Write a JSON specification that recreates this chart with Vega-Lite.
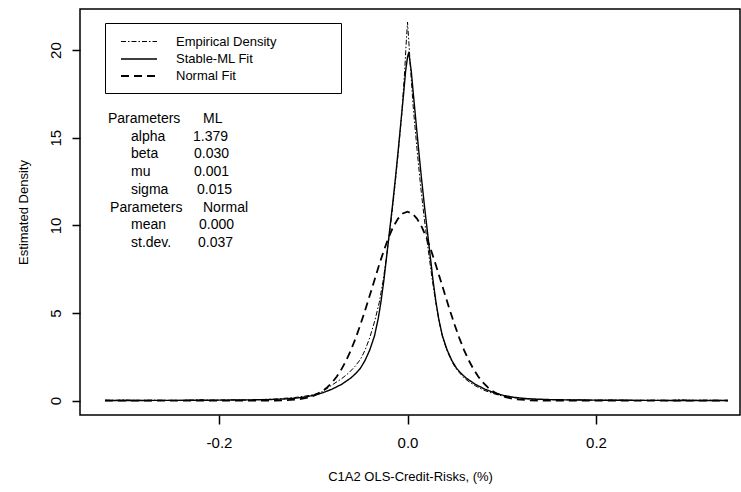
{
  "$schema": "https://vega.github.io/schema/vega-lite/v6.json",
  "width": 660,
  "height": 406,
  "autosize": {"type": "none"},
  "padding": {"left": 80, "top": 9, "right": 1, "bottom": 77},
  "background": "white",
  "config": {
    "view": {"stroke": "black", "strokeWidth": 1.5},
    "font": "Liberation Sans"
  },
  "datasets": {
    "curves": [
      {"curve": "Empirical Density", "x": -0.321, "y": 0.03},
      {"curve": "Empirical Density", "x": -0.31, "y": 0.02},
      {"curve": "Empirical Density", "x": -0.3, "y": 0.05},
      {"curve": "Empirical Density", "x": -0.29, "y": 0.02},
      {"curve": "Empirical Density", "x": -0.27, "y": 0.03},
      {"curve": "Empirical Density", "x": -0.25, "y": 0.02},
      {"curve": "Empirical Density", "x": -0.23, "y": 0.03},
      {"curve": "Empirical Density", "x": -0.22, "y": 0.06},
      {"curve": "Empirical Density", "x": -0.21, "y": 0.03},
      {"curve": "Empirical Density", "x": -0.19, "y": 0.05},
      {"curve": "Empirical Density", "x": -0.17, "y": 0.04},
      {"curve": "Empirical Density", "x": -0.155, "y": 0.07},
      {"curve": "Empirical Density", "x": -0.14, "y": 0.09},
      {"curve": "Empirical Density", "x": -0.13, "y": 0.14},
      {"curve": "Empirical Density", "x": -0.12, "y": 0.18},
      {"curve": "Empirical Density", "x": -0.11, "y": 0.25},
      {"curve": "Empirical Density", "x": -0.1, "y": 0.34},
      {"curve": "Empirical Density", "x": -0.09, "y": 0.52},
      {"curve": "Empirical Density", "x": -0.08, "y": 0.9},
      {"curve": "Empirical Density", "x": -0.07, "y": 1.25},
      {"curve": "Empirical Density", "x": -0.062, "y": 1.6},
      {"curve": "Empirical Density", "x": -0.056, "y": 1.94},
      {"curve": "Empirical Density", "x": -0.05, "y": 2.35},
      {"curve": "Empirical Density", "x": -0.045, "y": 2.89},
      {"curve": "Empirical Density", "x": -0.04, "y": 3.6},
      {"curve": "Empirical Density", "x": -0.0345, "y": 4.6},
      {"curve": "Empirical Density", "x": -0.03, "y": 5.6},
      {"curve": "Empirical Density", "x": -0.026, "y": 6.8},
      {"curve": "Empirical Density", "x": -0.022, "y": 8.3},
      {"curve": "Empirical Density", "x": -0.018, "y": 10.0},
      {"curve": "Empirical Density", "x": -0.014, "y": 11.9},
      {"curve": "Empirical Density", "x": -0.01, "y": 14.1},
      {"curve": "Empirical Density", "x": -0.006, "y": 16.4},
      {"curve": "Empirical Density", "x": -0.003, "y": 18.8},
      {"curve": "Empirical Density", "x": -0.0015, "y": 20.3},
      {"curve": "Empirical Density", "x": 0, "y": 21.6},
      {"curve": "Empirical Density", "x": 0.0015, "y": 20.4},
      {"curve": "Empirical Density", "x": 0.003, "y": 19.1},
      {"curve": "Empirical Density", "x": 0.006, "y": 16.8},
      {"curve": "Empirical Density", "x": 0.01, "y": 14.4},
      {"curve": "Empirical Density", "x": 0.014, "y": 12.2},
      {"curve": "Empirical Density", "x": 0.018, "y": 10.3},
      {"curve": "Empirical Density", "x": 0.022, "y": 8.6},
      {"curve": "Empirical Density", "x": 0.026, "y": 7.0},
      {"curve": "Empirical Density", "x": 0.03, "y": 5.6},
      {"curve": "Empirical Density", "x": 0.034, "y": 4.4},
      {"curve": "Empirical Density", "x": 0.038, "y": 3.5},
      {"curve": "Empirical Density", "x": 0.042, "y": 2.85},
      {"curve": "Empirical Density", "x": 0.046, "y": 2.35},
      {"curve": "Empirical Density", "x": 0.05, "y": 1.95},
      {"curve": "Empirical Density", "x": 0.055, "y": 1.6},
      {"curve": "Empirical Density", "x": 0.06, "y": 1.3},
      {"curve": "Empirical Density", "x": 0.066, "y": 1.05},
      {"curve": "Empirical Density", "x": 0.072, "y": 0.85},
      {"curve": "Empirical Density", "x": 0.08, "y": 0.62},
      {"curve": "Empirical Density", "x": 0.09, "y": 0.42},
      {"curve": "Empirical Density", "x": 0.1, "y": 0.28},
      {"curve": "Empirical Density", "x": 0.11, "y": 0.19},
      {"curve": "Empirical Density", "x": 0.12, "y": 0.13},
      {"curve": "Empirical Density", "x": 0.13, "y": 0.09},
      {"curve": "Empirical Density", "x": 0.14, "y": 0.06},
      {"curve": "Empirical Density", "x": 0.15, "y": 0.07},
      {"curve": "Empirical Density", "x": 0.16, "y": 0.04},
      {"curve": "Empirical Density", "x": 0.18, "y": 0.05},
      {"curve": "Empirical Density", "x": 0.2, "y": 0.03},
      {"curve": "Empirical Density", "x": 0.22, "y": 0.04},
      {"curve": "Empirical Density", "x": 0.24, "y": 0.02},
      {"curve": "Empirical Density", "x": 0.26, "y": 0.03},
      {"curve": "Empirical Density", "x": 0.28, "y": 0.02},
      {"curve": "Empirical Density", "x": 0.29, "y": 0.06},
      {"curve": "Empirical Density", "x": 0.3, "y": 0.02},
      {"curve": "Empirical Density", "x": 0.32, "y": 0.03},
      {"curve": "Empirical Density", "x": 0.34, "y": 0.02},

      {"curve": "Stable-ML Fit", "x": -0.321, "y": 0.01},
      {"curve": "Stable-ML Fit", "x": -0.3, "y": 0.012},
      {"curve": "Stable-ML Fit", "x": -0.25, "y": 0.018},
      {"curve": "Stable-ML Fit", "x": -0.2, "y": 0.03},
      {"curve": "Stable-ML Fit", "x": -0.17, "y": 0.045},
      {"curve": "Stable-ML Fit", "x": -0.15, "y": 0.06},
      {"curve": "Stable-ML Fit", "x": -0.13, "y": 0.1},
      {"curve": "Stable-ML Fit", "x": -0.12, "y": 0.14},
      {"curve": "Stable-ML Fit", "x": -0.11, "y": 0.2},
      {"curve": "Stable-ML Fit", "x": -0.1, "y": 0.3},
      {"curve": "Stable-ML Fit", "x": -0.09, "y": 0.45},
      {"curve": "Stable-ML Fit", "x": -0.08, "y": 0.66},
      {"curve": "Stable-ML Fit", "x": -0.07, "y": 0.93},
      {"curve": "Stable-ML Fit", "x": -0.06, "y": 1.3},
      {"curve": "Stable-ML Fit", "x": -0.055, "y": 1.55},
      {"curve": "Stable-ML Fit", "x": -0.05, "y": 1.85},
      {"curve": "Stable-ML Fit", "x": -0.045, "y": 2.3},
      {"curve": "Stable-ML Fit", "x": -0.04, "y": 2.9},
      {"curve": "Stable-ML Fit", "x": -0.035, "y": 3.7},
      {"curve": "Stable-ML Fit", "x": -0.031, "y": 4.7},
      {"curve": "Stable-ML Fit", "x": -0.028, "y": 5.7},
      {"curve": "Stable-ML Fit", "x": -0.025, "y": 6.9},
      {"curve": "Stable-ML Fit", "x": -0.022, "y": 8.3},
      {"curve": "Stable-ML Fit", "x": -0.019, "y": 9.7},
      {"curve": "Stable-ML Fit", "x": -0.016, "y": 11.1},
      {"curve": "Stable-ML Fit", "x": -0.013, "y": 12.6},
      {"curve": "Stable-ML Fit", "x": -0.01, "y": 14.2},
      {"curve": "Stable-ML Fit", "x": -0.007, "y": 15.9},
      {"curve": "Stable-ML Fit", "x": -0.004, "y": 17.6},
      {"curve": "Stable-ML Fit", "x": -0.002, "y": 18.8},
      {"curve": "Stable-ML Fit", "x": 0, "y": 19.6},
      {"curve": "Stable-ML Fit", "x": 0.001, "y": 19.8},
      {"curve": "Stable-ML Fit", "x": 0.002, "y": 19.6},
      {"curve": "Stable-ML Fit", "x": 0.004, "y": 18.8},
      {"curve": "Stable-ML Fit", "x": 0.006, "y": 17.6},
      {"curve": "Stable-ML Fit", "x": 0.009, "y": 15.9},
      {"curve": "Stable-ML Fit", "x": 0.012, "y": 14.2},
      {"curve": "Stable-ML Fit", "x": 0.015, "y": 12.6},
      {"curve": "Stable-ML Fit", "x": 0.018, "y": 11.1},
      {"curve": "Stable-ML Fit", "x": 0.021, "y": 9.7},
      {"curve": "Stable-ML Fit", "x": 0.024, "y": 8.3},
      {"curve": "Stable-ML Fit", "x": 0.027, "y": 6.9},
      {"curve": "Stable-ML Fit", "x": 0.03, "y": 5.7},
      {"curve": "Stable-ML Fit", "x": 0.033, "y": 4.7},
      {"curve": "Stable-ML Fit", "x": 0.037, "y": 3.7},
      {"curve": "Stable-ML Fit", "x": 0.042, "y": 2.9},
      {"curve": "Stable-ML Fit", "x": 0.047, "y": 2.3},
      {"curve": "Stable-ML Fit", "x": 0.052, "y": 1.85},
      {"curve": "Stable-ML Fit", "x": 0.057, "y": 1.55},
      {"curve": "Stable-ML Fit", "x": 0.062, "y": 1.3},
      {"curve": "Stable-ML Fit", "x": 0.072, "y": 0.93},
      {"curve": "Stable-ML Fit", "x": 0.082, "y": 0.66},
      {"curve": "Stable-ML Fit", "x": 0.092, "y": 0.45},
      {"curve": "Stable-ML Fit", "x": 0.102, "y": 0.3},
      {"curve": "Stable-ML Fit", "x": 0.112, "y": 0.2},
      {"curve": "Stable-ML Fit", "x": 0.122, "y": 0.14},
      {"curve": "Stable-ML Fit", "x": 0.132, "y": 0.1},
      {"curve": "Stable-ML Fit", "x": 0.152, "y": 0.06},
      {"curve": "Stable-ML Fit", "x": 0.172, "y": 0.045},
      {"curve": "Stable-ML Fit", "x": 0.202, "y": 0.03},
      {"curve": "Stable-ML Fit", "x": 0.252, "y": 0.018},
      {"curve": "Stable-ML Fit", "x": 0.302, "y": 0.012},
      {"curve": "Stable-ML Fit", "x": 0.34, "y": 0.01},

      {"curve": "Normal Fit", "x": -0.321, "y": 0},
      {"curve": "Normal Fit", "x": -0.2, "y": 0},
      {"curve": "Normal Fit", "x": -0.15, "y": 0.003},
      {"curve": "Normal Fit", "x": -0.14, "y": 0.008},
      {"curve": "Normal Fit", "x": -0.13, "y": 0.023},
      {"curve": "Normal Fit", "x": -0.12, "y": 0.056},
      {"curve": "Normal Fit", "x": -0.115, "y": 0.086},
      {"curve": "Normal Fit", "x": -0.11, "y": 0.13},
      {"curve": "Normal Fit", "x": -0.105, "y": 0.19},
      {"curve": "Normal Fit", "x": -0.1, "y": 0.28},
      {"curve": "Normal Fit", "x": -0.095, "y": 0.4},
      {"curve": "Normal Fit", "x": -0.09, "y": 0.56},
      {"curve": "Normal Fit", "x": -0.085, "y": 0.77},
      {"curve": "Normal Fit", "x": -0.08, "y": 1.04},
      {"curve": "Normal Fit", "x": -0.075, "y": 1.38},
      {"curve": "Normal Fit", "x": -0.07, "y": 1.8},
      {"curve": "Normal Fit", "x": -0.065, "y": 2.3},
      {"curve": "Normal Fit", "x": -0.06, "y": 2.89},
      {"curve": "Normal Fit", "x": -0.055, "y": 3.57},
      {"curve": "Normal Fit", "x": -0.05, "y": 4.33},
      {"curve": "Normal Fit", "x": -0.045, "y": 5.15},
      {"curve": "Normal Fit", "x": -0.04, "y": 6.01},
      {"curve": "Normal Fit", "x": -0.035, "y": 6.89},
      {"curve": "Normal Fit", "x": -0.03, "y": 7.76},
      {"curve": "Normal Fit", "x": -0.025, "y": 8.58},
      {"curve": "Normal Fit", "x": -0.02, "y": 9.32},
      {"curve": "Normal Fit", "x": -0.015, "y": 9.93},
      {"curve": "Normal Fit", "x": -0.01, "y": 10.39},
      {"curve": "Normal Fit", "x": -0.005, "y": 10.68},
      {"curve": "Normal Fit", "x": 0, "y": 10.78},
      {"curve": "Normal Fit", "x": 0.005, "y": 10.68},
      {"curve": "Normal Fit", "x": 0.01, "y": 10.39},
      {"curve": "Normal Fit", "x": 0.015, "y": 9.93},
      {"curve": "Normal Fit", "x": 0.02, "y": 9.32},
      {"curve": "Normal Fit", "x": 0.025, "y": 8.58},
      {"curve": "Normal Fit", "x": 0.03, "y": 7.76},
      {"curve": "Normal Fit", "x": 0.035, "y": 6.89},
      {"curve": "Normal Fit", "x": 0.04, "y": 6.01},
      {"curve": "Normal Fit", "x": 0.045, "y": 5.15},
      {"curve": "Normal Fit", "x": 0.05, "y": 4.33},
      {"curve": "Normal Fit", "x": 0.055, "y": 3.57},
      {"curve": "Normal Fit", "x": 0.06, "y": 2.89},
      {"curve": "Normal Fit", "x": 0.065, "y": 2.3},
      {"curve": "Normal Fit", "x": 0.07, "y": 1.8},
      {"curve": "Normal Fit", "x": 0.075, "y": 1.38},
      {"curve": "Normal Fit", "x": 0.08, "y": 1.04},
      {"curve": "Normal Fit", "x": 0.085, "y": 0.77},
      {"curve": "Normal Fit", "x": 0.09, "y": 0.56},
      {"curve": "Normal Fit", "x": 0.095, "y": 0.4},
      {"curve": "Normal Fit", "x": 0.1, "y": 0.28},
      {"curve": "Normal Fit", "x": 0.105, "y": 0.19},
      {"curve": "Normal Fit", "x": 0.11, "y": 0.13},
      {"curve": "Normal Fit", "x": 0.115, "y": 0.086},
      {"curve": "Normal Fit", "x": 0.12, "y": 0.056},
      {"curve": "Normal Fit", "x": 0.13, "y": 0.023},
      {"curve": "Normal Fit", "x": 0.14, "y": 0.008},
      {"curve": "Normal Fit", "x": 0.15, "y": 0.003},
      {"curve": "Normal Fit", "x": 0.2, "y": 0},
      {"curve": "Normal Fit", "x": 0.34, "y": 0}
    ],
    "notes": [
      {"label": "Parameters", "x": -0.3178, "y": 16.07},
      {"label": "ML", "x": -0.217, "y": 16.07},
      {"label": "alpha", "x": -0.2934, "y": 15.06},
      {"label": "1.379", "x": -0.2276, "y": 15.06},
      {"label": "beta", "x": -0.2934, "y": 14.05},
      {"label": "0.030", "x": -0.2265, "y": 14.05},
      {"label": "mu", "x": -0.2934, "y": 13.04},
      {"label": "0.001", "x": -0.2265, "y": 13.04},
      {"label": "sigma", "x": -0.2934, "y": 12.03},
      {"label": "0.015", "x": -0.2233, "y": 12.03},
      {"label": "Parameters", "x": -0.3156, "y": 11.02},
      {"label": "Normal", "x": -0.217, "y": 11.02},
      {"label": "mean", "x": -0.2934, "y": 10.01},
      {"label": "0.000", "x": -0.2212, "y": 10.01},
      {"label": "st.dev.", "x": -0.2934, "y": 9.0},
      {"label": "0.037", "x": -0.2223, "y": 9.0}
    ]
  },
  "encoding": {
    "x": {
      "field": "x", "type": "quantitative",
      "scale": {"domain": [-0.3475, 0.3528], "nice": false, "zero": false},
      "axis": {
        "values": [-0.2, 0, 0.2],
        "labelExpr": "datum.value == 0 ? '0.0' : toString(datum.value)",
        "domain": false, "grid": false,
        "tickSize": 9, "tickColor": "black", "tickWidth": 1.5,
        "labelFontSize": 15, "labelColor": "black", "labelPadding": 11,
        "labelFont": "Liberation Sans",
        "title": "C1A2 OLS-Credit-Risks, (%)",
        "titleFont": "Liberation Sans",
        "titleFontSize": 13, "titleFontWeight": "normal", "titleColor": "black",
        "titlePadding": 20
      }
    },
    "y": {
      "field": "y", "type": "quantitative",
      "scale": {"domain": [-0.816, 22.344], "nice": false, "zero": false},
      "axis": {
        "values": [0, 5, 10, 15, 20],
        "domain": false, "grid": false,
        "tickSize": 8, "tickColor": "black", "tickWidth": 1.5,
        "labelAngle": 270, "labelAlign": "center", "labelBaseline": "bottom",
        "labelFontSize": 15, "labelColor": "black", "labelPadding": 9,
        "labelFont": "Liberation Sans",
        "title": "Estimated Density",
        "titleFont": "Liberation Sans",
        "titleFontSize": 13, "titleFontWeight": "normal", "titleColor": "black",
        "titlePadding": 18
      }
    }
  },
  "layer": [
    {
      "data": {"name": "curves"},
      "mark": {"type": "line", "color": "black"},
      "encoding": {
        "strokeDash": {
          "field": "curve", "type": "nominal",
          "scale": {
            "domain": ["Empirical Density", "Stable-ML Fit", "Normal Fit"],
            "range": [[5, 2, 1.5, 2], [1, 0], [8, 5]]
          },
          "legend": {
            "title": null,
            "orient": "none", "legendX": 25, "legendY": 14,
            "strokeColor": "black",
            "padding": 10,
            "symbolType": "M-2.25,0H2.25",
            "symbolSize": 256,
            "symbolStrokeColor": "black",
            "symbolFillColor": "transparent",
            "symbolOffset": 15,
            "labelOffset": 28,
            "rowPadding": 1,
            "labelFont": "Liberation Sans",
            "labelFontSize": 13, "labelColor": "black",
            "labelExpr": "datum.label + '\u00a0\u00a0\u00a0\u00a0\u00a0\u00a0\u00a0\u00a0\u00a0\u00a0\u00a0\u00a0\u00a0\u00a0\u00a0\u200b'"
          }
        },
        "strokeWidth": {
          "field": "curve", "type": "ordinal",
          "scale": {
            "domain": ["Empirical Density", "Stable-ML Fit", "Normal Fit"],
            "range": [1, 1.8, 1.8]
          },
          "legend": null
        }
      }
    },
    {
      "data": {"name": "notes"},
      "mark": {"type": "text", "align": "left", "baseline": "middle", "fontSize": 14, "color": "black", "font": "Liberation Sans"},
      "encoding": {
        "text": {"field": "label"}
      }
    }
  ]
}
